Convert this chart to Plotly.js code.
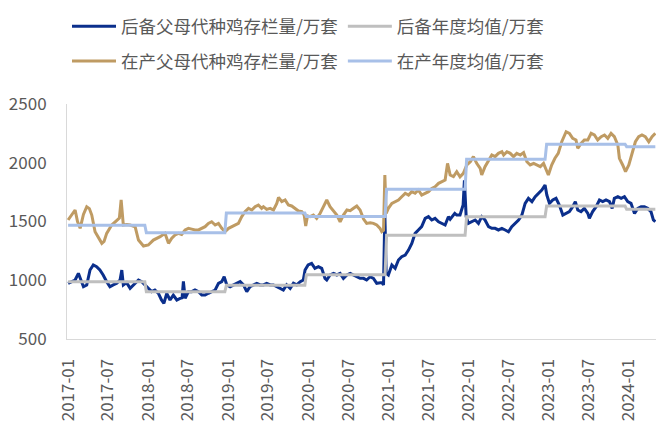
<!DOCTYPE html>
<html>
<head>
<meta charset="utf-8">
<script src="https://cdn.plot.ly/plotly-3.0.1.min.js"></script>
<style>
  html, body { margin: 0; padding: 0; background: #fff; }
  #chart { width: 656px; height: 432px; }
</style>
</head>
<body>
<div id="chart"></div>
<script>
// 后备父母代种鸡存栏量 (weekly)
var backupDates = [
  '2017-01-01','2017-01-18','2017-02-02','2017-02-17','2017-02-28','2017-03-12','2017-03-27','2017-04-11','2017-04-26','2017-05-11',
  '2017-05-26','2017-06-10','2017-06-26','2017-07-11','2017-07-26','2017-08-11','2017-08-26','2017-09-03','2017-09-10','2017-09-25',
  '2017-10-11','2017-10-26','2017-11-18','2017-12-03','2017-12-18','2018-01-02','2018-01-17','2018-02-01','2018-02-17','2018-03-03',
  '2018-03-14','2018-03-27','2018-04-11','2018-04-26','2018-05-12','2018-05-27','2018-06-05','2018-06-11','2018-06-19','2018-07-04',
  '2018-07-19','2018-08-03','2018-08-19','2018-09-03','2018-09-18','2018-10-03','2018-10-18','2018-11-03','2018-11-18','2018-12-03',
  '2018-12-14','2018-12-26','2019-01-10','2019-01-25','2019-02-09','2019-02-25','2019-03-12','2019-03-27','2019-04-11','2019-04-26',
  '2019-05-12','2019-05-27','2019-06-11','2019-06-26','2019-07-12','2019-07-27','2019-08-11','2019-08-26','2019-09-10','2019-09-25',
  '2019-10-11','2019-10-26','2019-11-10','2019-11-26','2019-12-10','2019-12-18','2020-01-01','2020-01-17','2020-02-01','2020-02-17',
  '2020-03-03','2020-03-18','2020-03-26','2020-04-10','2020-04-26','2020-05-11','2020-05-26','2020-06-10','2020-06-26','2020-07-11',
  '2020-07-26','2020-08-10','2020-08-25','2020-09-10','2020-09-24','2020-10-10','2020-10-25','2020-11-09','2020-11-24','2020-12-02',
  '2020-12-10','2020-12-16','2020-12-22','2021-01-01','2021-01-17','2021-02-01','2021-02-16','2021-03-03','2021-03-19','2021-04-03',
  '2021-04-18','2021-05-03','2021-05-18','2021-06-02','2021-06-18','2021-07-03','2021-07-18','2021-08-02','2021-08-18','2021-09-02',
  '2021-09-17','2021-10-02','2021-10-10','2021-10-31','2021-11-09','2021-11-24','2021-12-02','2021-12-08','2021-12-14','2021-12-22',
  '2022-01-01','2022-01-16','2022-02-01','2022-02-16','2022-03-03','2022-03-18','2022-04-03','2022-04-18','2022-05-03','2022-05-18',
  '2022-06-03','2022-06-18','2022-07-03','2022-07-18','2022-08-03','2022-08-18','2022-09-02','2022-09-17','2022-10-02','2022-10-18',
  '2022-11-02','2022-11-17','2022-12-02','2022-12-17','2022-12-25','2023-01-06','2023-01-21','2023-02-05','2023-02-20','2023-03-08',
  '2023-03-23','2023-04-07','2023-04-22','2023-05-04','2023-05-15','2023-05-30','2023-06-14','2023-06-30','2023-07-07','2023-07-22',
  '2023-08-07','2023-08-22','2023-09-06','2023-09-21','2023-10-07','2023-10-19','2023-10-29','2023-11-14','2023-11-29','2023-12-14',
  '2023-12-29','2024-01-13','2024-01-29','2024-02-13','2024-02-28','2024-03-14','2024-03-29','2024-04-13','2024-04-24','2024-05-03'
];
var backupStock = [
  974, 988, 1002, 1059, 1000, 945, 960, 1087, 1130, 1116,
  1087, 1045, 988, 945, 960, 974, 1002, 1087, 960, 980,
  931, 960, 1002, 988, 960, 931, 903, 917, 889, 832,
  803, 889, 832, 874, 832, 846, 850, 990, 846, 903,
  903, 917, 903, 874, 874, 889, 903, 917, 974, 988,
  1030, 960, 945, 960, 974, 988, 960, 903, 945, 960,
  974, 960, 960, 974, 960, 960, 945, 931, 917, 960,
  931, 974, 960, 988, 1002, 1087, 1130, 1144, 1101, 1116,
  1101, 1016, 1002, 1045, 1059, 1045, 1059, 1016, 1045, 1059,
  1045, 1030, 1016, 1016, 1002, 1030, 1016, 974, 974, 980,
  960, 1570, 1059, 1045, 1130, 1101, 1172, 1201, 1215, 1257,
  1314, 1399, 1428, 1456, 1527, 1541, 1513, 1527, 1498, 1484,
  1470, 1541, 1520, 1569, 1555, 1555, 1598, 1640, 1850, 1541,
  1484, 1498, 1513, 1484, 1541, 1513, 1456, 1442, 1442, 1428,
  1442, 1428, 1413, 1456, 1484, 1513, 1555, 1654, 1697, 1669,
  1711, 1740, 1768, 1811, 1725, 1654, 1683, 1697, 1640, 1555,
  1569, 1584, 1626, 1669, 1598, 1584, 1612, 1569, 1527, 1584,
  1626, 1683, 1669, 1683, 1669, 1612, 1697, 1711, 1697, 1711,
  1669, 1655, 1569, 1612, 1626, 1626, 1612, 1584, 1513, 1498
];

// 在产父母代种鸡存栏量
var prodDates = [
  '2017-01-01','2017-01-18','2017-02-02','2017-02-13','2017-02-25','2017-03-12','2017-03-27','2017-04-08','2017-04-19','2017-05-04',
  '2017-05-19','2017-06-04','2017-06-14','2017-06-26','2017-07-19','2017-08-11','2017-08-23','2017-08-31','2017-09-10','2017-09-26',
  '2017-10-11','2017-11-03','2017-11-18','2017-12-11','2018-01-02','2018-01-25','2018-02-25','2018-03-19','2018-04-04','2018-04-19',
  '2018-05-04','2018-05-19','2018-06-03','2018-06-19','2018-07-04','2018-07-19','2018-08-03','2018-08-19','2018-09-03','2018-09-18',
  '2018-10-03','2018-10-18','2018-11-03','2018-11-18','2018-12-03','2018-12-18','2019-01-03','2019-01-18','2019-02-02','2019-02-17',
  '2019-03-04','2019-03-19','2019-04-04','2019-04-19','2019-05-04','2019-05-19','2019-06-03','2019-06-11','2019-06-26','2019-07-12',
  '2019-07-27','2019-08-11','2019-08-19','2019-09-03','2019-09-18','2019-10-03','2019-10-18','2019-11-03','2019-11-18','2019-12-03',
  '2019-12-14','2019-12-21','2019-12-29','2020-01-10','2020-01-25','2020-02-09','2020-02-25','2020-03-11','2020-03-26','2020-04-10',
  '2020-04-26','2020-05-11','2020-05-26','2020-06-10','2020-06-26','2020-07-11','2020-07-26','2020-08-10','2020-08-25','2020-09-10',
  '2020-09-24','2020-10-10','2020-10-25','2020-11-09','2020-11-24','2020-12-02','2020-12-10','2020-12-16','2020-12-22','2021-01-01',
  '2021-01-17','2021-02-01','2021-02-16','2021-03-03','2021-03-19','2021-04-03','2021-04-18','2021-05-03','2021-05-18','2021-06-02',
  '2021-06-18','2021-07-03','2021-07-18','2021-08-02','2021-08-18','2021-09-02','2021-09-17','2021-09-28','2021-10-10','2021-10-25',
  '2021-11-09','2021-11-24','2021-12-09','2021-12-25','2022-01-01','2022-01-10','2022-01-24','2022-02-08','2022-02-24','2022-03-03',
  '2022-03-18','2022-04-03','2022-04-18','2022-05-03','2022-05-18','2022-06-03','2022-06-11','2022-06-26','2022-07-11','2022-07-26',
  '2022-08-10','2022-08-26','2022-09-10','2022-09-25','2022-10-10','2022-10-26','2022-11-10','2022-11-25','2022-12-10','2022-12-22',
  '2023-01-01','2023-01-16','2023-01-31','2023-02-15','2023-03-03','2023-03-23','2023-04-07','2023-04-22','2023-05-07','2023-05-15',
  '2023-05-30','2023-06-14','2023-06-30','2023-07-15','2023-07-30','2023-08-14','2023-08-30','2023-09-14','2023-09-29','2023-10-14',
  '2023-10-29','2023-11-14','2023-11-21','2023-12-06','2023-12-19','2024-01-03','2024-01-18','2024-02-02','2024-02-17','2024-03-03',
  '2024-03-18','2024-04-03','2024-04-18','2024-05-03'
];
var prodStock = [
  1513, 1560, 1598, 1500, 1442, 1560, 1626, 1610, 1555, 1413,
  1360, 1314, 1330, 1399, 1470, 1513, 1530, 1683, 1470, 1475,
  1470, 1455, 1342, 1291, 1300, 1342, 1371, 1399, 1314, 1357,
  1385, 1399, 1390, 1428, 1442, 1435, 1428, 1428, 1442, 1456,
  1484, 1498, 1470, 1484, 1442, 1413, 1442, 1456, 1470, 1484,
  1541, 1584, 1612, 1598, 1626, 1640, 1612, 1626, 1603, 1612,
  1598, 1654, 1706, 1669, 1683, 1640, 1632, 1612, 1589, 1584,
  1555, 1462, 1547, 1541, 1555, 1527, 1570, 1626, 1683, 1626,
  1584, 1555, 1498, 1555, 1598, 1592, 1612, 1632, 1598, 1520,
  1484, 1490, 1484, 1470, 1442, 1413, 1425, 1896, 1569, 1612,
  1654, 1669, 1683, 1711, 1740, 1725, 1754, 1740, 1768, 1725,
  1740, 1754, 1782, 1796, 1825, 1839, 1853, 1995, 1896, 1882,
  1924, 1880, 1910, 1981, 1995, 2009, 2052, 1995, 1952, 1896,
  1967, 2023, 2066, 2052, 2080, 2094, 2066, 2094, 2080, 2052,
  2080, 2066, 2086, 2009, 1981, 1995, 1981, 1967, 1995, 1938,
  1896, 1981, 2038, 2080, 2179, 2264, 2250, 2208, 2194, 2123,
  2165, 2194, 2194, 2250, 2236, 2194, 2222, 2236, 2208, 2250,
  2222, 2151, 2038, 1981, 1924, 1981, 2080, 2179, 2222, 2236,
  2222, 2179, 2222, 2250
];

// 年度均值
var avgYears = [2017, 2018, 2019, 2020, 2021, 2022, 2023, 2024];
var backupYearAvg = [988, 902, 957, 1047, 1382, 1541, 1632, 1604];
var prodYearAvg = [1468, 1405, 1572, 1543, 1774, 2029, 2157, 2137];

var tickLabels = ['2017-01','2017-07','2018-01','2018-07','2019-01','2019-07','2020-01','2020-07',
                  '2021-01','2021-07','2022-01','2022-07','2023-01','2023-07','2024-01'];

// each year's average held flat across that year's weeks
function yearSteps(avgs) {
  var xs = [], ys = [];
  for (var i = 0; i < avgYears.length; i++) {
    var yr = avgYears[i];
    xs.push(i === 0 ? '2017-01-01' : (yr - 1) + '-12-24');
    xs.push(i === avgYears.length - 1 ? '2024-05-03' : yr + '-12-17');
    ys.push(avgs[i], avgs[i]);
  }
  return {x: xs, y: ys};
}

var backupAvg = yearSteps(backupYearAvg);
var prodAvg = yearSteps(prodYearAvg);

var fontFam = '"Noto Sans CJK SC", "Noto Sans", sans-serif';

var trace1 = {
  x: backupDates, y: backupStock, name: '后备父母代种鸡存栏量/万套',
  type: 'scatter', mode: 'lines', legend: 'legend',
  line: {color: '#0B2F8C', width: 3}
};
var trace2 = {
  x: backupAvg.x, y: backupAvg.y, name: '后备年度均值/万套',
  type: 'scatter', mode: 'lines', legend: 'legend',
  line: {color: '#BFBFBF', width: 3}
};
var trace3 = {
  x: prodDates, y: prodStock, name: '在产父母代种鸡存栏量/万套',
  type: 'scatter', mode: 'lines', legend: 'legend2',
  line: {color: '#BF9B63', width: 3}
};
var trace4 = {
  x: prodAvg.x, y: prodAvg.y, name: '在产年度均值/万套',
  type: 'scatter', mode: 'lines', legend: 'legend2',
  line: {color: '#A8C0E8', width: 3}
};

var legendBase = {
  orientation: 'h', x: 0, xanchor: 'left', yanchor: 'middle',
  itemwidth: 44,
  font: {family: fontFam, size: 17.5, color: '#595959'},
  bgcolor: 'rgba(0,0,0,0)', traceorder: 'normal'
};

var layout = {
  width: 656, height: 432,
  margin: {l: 67, r: 0, t: 104, b: 93},
  paper_bgcolor: '#ffffff',
  plot_bgcolor: '#ffffff',
  font: {family: fontFam, color: '#595959'},
  showlegend: true,
  legend: Object.assign({}, legendBase, {y: 1.33}),
  legend2: Object.assign({}, legendBase, {y: 1.182}),
  xaxis: {
    type: 'date',
    range: ['2016-12-27', '2024-05-06'],
    tickvals: tickLabels.map(function (t) { return t + '-01'; }),
    ticktext: tickLabels,
    tickangle: -90,
    ticks: '',
    ticklabelstandoff: 12,
    tickfont: {family: fontFam, size: 17, color: '#595959'},
    showline: true, linecolor: '#D9D9D9', linewidth: 1,
    showgrid: false, zeroline: false
  },
  yaxis: {
    range: [500, 2500],
    tick0: 500, dtick: 500,
    ticks: '',
    ticklabelstandoff: 16,
    tickfont: {family: fontFam, size: 17, color: '#595959'},
    showline: true, linecolor: '#D9D9D9', linewidth: 1,
    showgrid: false, zeroline: false
  }
};

Plotly.newPlot('chart', [trace1, trace2, trace3, trace4], layout, {displayModeBar: false, staticPlot: true});
</script>
</body>
</html>
